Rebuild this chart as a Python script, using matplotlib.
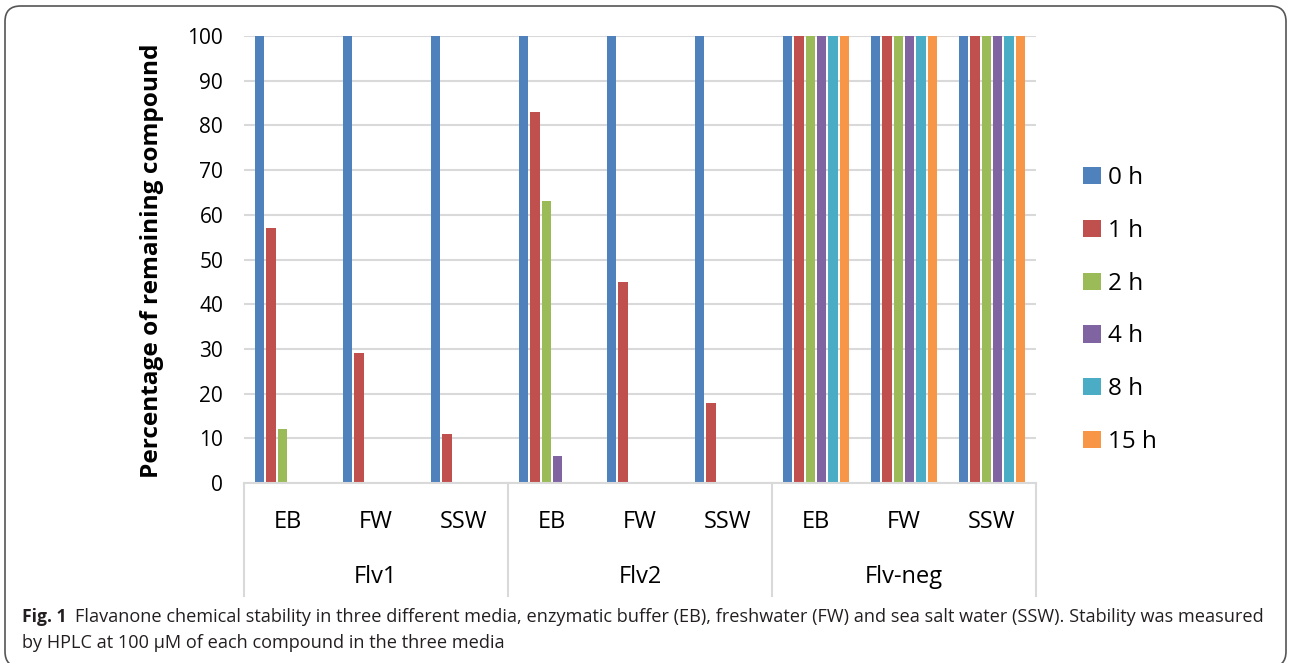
import matplotlib.pyplot as plt
import matplotlib as mpl
import numpy as np
from matplotlib.patches import FancyBboxPatch
from matplotlib.transforms import blended_transform_factory

# ---- Data ----
compounds = ["Flv1", "Flv2", "Flv-neg"]
media = ["EB", "FW", "SSW"]
times = ["0 h", "1 h", "2 h", "4 h", "8 h", "15 h"]

# one list per time point, ordered Flv1 EB/FW/SSW, Flv2 EB/FW/SSW, Flv-neg EB/FW/SSW
h0  = [100, 100, 100, 100, 100, 100, 100, 100, 100]
h1  = [57, 29, 11, 83, 45, 18, 100, 100, 100]
h2  = [12, 0, 0, 63, 0, 0, 100, 100, 100]
h4  = [0, 0, 0, 6, 0, 0, 100, 100, 100]
h8  = [0, 0, 0, 0, 0, 0, 100, 100, 100]
h15 = [0, 0, 0, 0, 0, 0, 100, 100, 100]
series = [h0, h1, h2, h4, h8, h15]

colors = ["#4F81BD", "#C0504D", "#9BBB59", "#8064A2", "#4BACC6", "#F79646"]

# ---- Style ----
mpl.rcParams.update({
    "font.family": ["Open Sans", "DejaVu Sans"],
    "text.color": "#000000",
})

W, H = 1290, 663
fig = plt.figure(figsize=(W / 100, H / 100), dpi=100)
ax = fig.add_axes([244 / W, 1 - 483 / H, (1036 - 244) / W, (483 - 36) / H])

n_cat = len(h0)
x = np.arange(n_cat)
group_w = 68 / 88
slot = group_w / len(series)
handles = []
for i, (vals, c) in enumerate(zip(series, colors)):
    off = -group_w / 2 + slot * (i + 0.5)
    b = ax.bar(x + off, vals, width=slot * 0.82, color=c, edgecolor="none", zorder=2)
    handles.append(b)

ax.set_xlim(-0.5, n_cat - 0.5)
ax.set_ylim(0, 100)
ax.set_yticks(np.arange(0, 101, 10))
ax.tick_params(axis="y", length=0, pad=15, labelsize=15)
ax.tick_params(axis="x", length=0, labelbottom=False)
ax.yaxis.grid(True, color="#D9D9D9", linewidth=1.5)
ax.set_axisbelow(True)
for s in ["top", "right", "left"]:
    ax.spines[s].set_visible(False)
ax.spines["bottom"].set_color("#D9D9D9")
ax.spines["bottom"].set_linewidth(1.5)
ax.spines["bottom"].set_zorder(3)

# ---- Two-level category axis ----
tr = blended_transform_factory(ax.transData, ax.transAxes)
for j in range(n_cat):
    ax.text(x[j], -0.087, media[j % 3], transform=tr, ha="center", va="center",
            fontsize=17, clip_on=False)
for k, name in enumerate(compounds):
    ax.text(3 * k + 1, -0.21, name, transform=tr, ha="center", va="center",
            fontsize=17, clip_on=False)
for xs in [-0.5, 2.5, 5.5, 8.5]:
    ax.plot([xs, xs], [0, -0.252], transform=tr, color="#D9D9D9",
            linewidth=1.5, clip_on=False, zorder=3)

# ---- Axis title ----
fig.text(152 / W, 1 - 261 / H, "Percentage of remaining compound", rotation=90,
         ha="center", va="center", fontsize=17.6, fontweight="bold")

# ---- Legend ----
fig.legend(handles, times, loc="center left", bbox_to_anchor=(1083 / W, 1 - 310 / H),
           frameon=False, fontsize=17.5, handlelength=0.72, handleheight=0.72,
           handletextpad=0.3, labelspacing=1.18, borderpad=0, borderaxespad=0)

# ---- Caption ----
cap_fs = 13.1
fig.text(22 / W, 1 - 617 / H, "Fig. 1", fontsize=12.6, fontweight="bold",
         ha="left", va="center", color="#231F20")
fig.text(75 / W, 1 - 617 / H,
         "Flavanone chemical stability in three different media, enzymatic buffer (EB), "
         "freshwater (FW) and sea salt water (SSW). Stability was measured",
         fontsize=cap_fs, ha="left", va="center", color="#231F20")
fig.text(22 / W, 1 - 643 / H,
         "by HPLC at 100 \u00b5M of each compound in the three media",
         fontsize=cap_fs, ha="left", va="center", color="#231F20")

# ---- Rounded frame ----
box = FancyBboxPatch((5 / W, -4 / H), (1286 - 5) / W, (657 + 4) / H,
                     boxstyle="round,pad=0,rounding_size=0.012",
                     transform=fig.transFigure, facecolor="none",
                     edgecolor="#555555", linewidth=1.2, mutation_aspect=W / H)
fig.patches.append(box)

fig.savefig("out.png", dpi=100, facecolor="white")
